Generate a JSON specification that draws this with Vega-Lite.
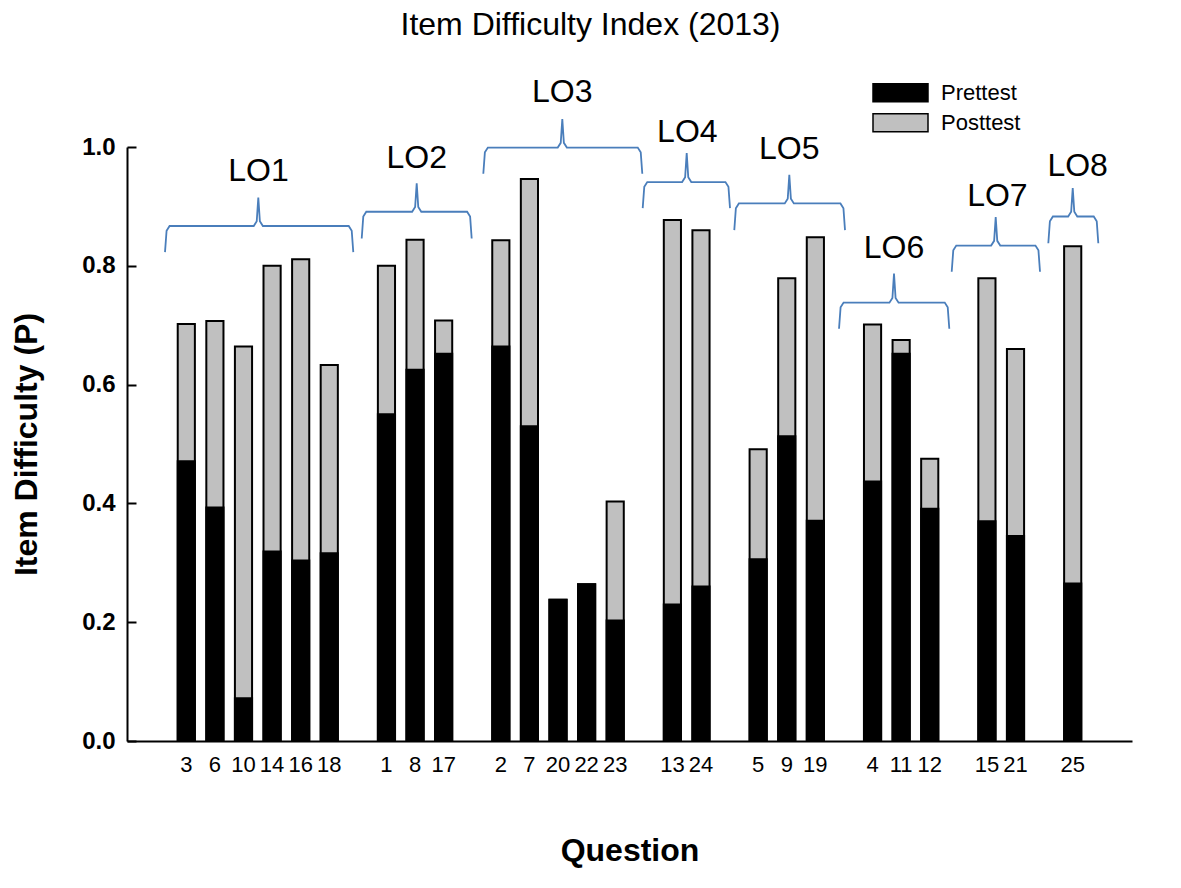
{
  "$schema": "https://vega.github.io/schema/vega-lite/v6.json",
  "width": 1005,
  "height": 594,
  "autosize": "none",
  "padding": {"left": 127, "top": 147, "right": 49, "bottom": 147},
  "background": "white",
  "title": {
    "text": "Item Difficulty Index (2013)",
    "fontSize": 32,
    "fontWeight": "normal",
    "font": "Liberation Sans",
    "color": "black",
    "anchor": "middle",
    "dx": -39,
    "dy": -30
  },
  "datasets": {
    "items": [
      {"q": "3", "lo": "LO1", "Prettest": 0.471, "Posttest": 0.702},
      {"q": "6", "lo": "LO1", "Prettest": 0.393, "Posttest": 0.707},
      {"q": "10", "lo": "LO1", "Prettest": 0.072, "Posttest": 0.664},
      {"q": "14", "lo": "LO1", "Prettest": 0.319, "Posttest": 0.800},
      {"q": "16", "lo": "LO1", "Prettest": 0.304, "Posttest": 0.811},
      {"q": "18", "lo": "LO1", "Prettest": 0.316, "Posttest": 0.633},
      {"q": "1", "lo": "LO2", "Prettest": 0.550, "Posttest": 0.800},
      {"q": "8", "lo": "LO2", "Prettest": 0.625, "Posttest": 0.844},
      {"q": "17", "lo": "LO2", "Prettest": 0.652, "Posttest": 0.708},
      {"q": "2", "lo": "LO3", "Prettest": 0.664, "Posttest": 0.843},
      {"q": "7", "lo": "LO3", "Prettest": 0.530, "Posttest": 0.946},
      {"q": "20", "lo": "LO3", "Prettest": 0.238, "Posttest": 0.238},
      {"q": "22", "lo": "LO3", "Prettest": 0.264, "Posttest": 0.264},
      {"q": "23", "lo": "LO3", "Prettest": 0.203, "Posttest": 0.403},
      {"q": "13", "lo": "LO4", "Prettest": 0.230, "Posttest": 0.877},
      {"q": "24", "lo": "LO4", "Prettest": 0.260, "Posttest": 0.860},
      {"q": "5", "lo": "LO5", "Prettest": 0.306, "Posttest": 0.491},
      {"q": "9", "lo": "LO5", "Prettest": 0.513, "Posttest": 0.779},
      {"q": "19", "lo": "LO5", "Prettest": 0.371, "Posttest": 0.848},
      {"q": "4", "lo": "LO6", "Prettest": 0.437, "Posttest": 0.701},
      {"q": "11", "lo": "LO6", "Prettest": 0.652, "Posttest": 0.675},
      {"q": "12", "lo": "LO6", "Prettest": 0.391, "Posttest": 0.475},
      {"q": "15", "lo": "LO7", "Prettest": 0.370, "Posttest": 0.779},
      {"q": "21", "lo": "LO7", "Prettest": 0.345, "Posttest": 0.660},
      {"q": "25", "lo": "LO8", "Prettest": 0.265, "Posttest": 0.833}
    ],
    "braces": [
      {"lo": "LO1", "x": -0.746, "y": 0.823}, {"lo": "LO1", "x": -0.691, "y": 0.859}, {"lo": "LO1", "x": -0.586, "y": 0.867},
      {"lo": "LO1", "x": 2.362, "y": 0.867}, {"lo": "LO1", "x": 2.467, "y": 0.875}, {"lo": "LO1", "x": 2.522, "y": 0.915},
      {"lo": "LO1", "x": 2.577, "y": 0.875}, {"lo": "LO1", "x": 2.682, "y": 0.867}, {"lo": "LO1", "x": 5.689, "y": 0.867},
      {"lo": "LO1", "x": 5.794, "y": 0.859}, {"lo": "LO1", "x": 5.849, "y": 0.823},
      {"lo": "LO2", "x": 6.144, "y": 0.846}, {"lo": "LO2", "x": 6.199, "y": 0.883}, {"lo": "LO2", "x": 6.304, "y": 0.891},
      {"lo": "LO2", "x": 7.910, "y": 0.891}, {"lo": "LO2", "x": 8.015, "y": 0.899}, {"lo": "LO2", "x": 8.070, "y": 0.939},
      {"lo": "LO2", "x": 8.125, "y": 0.899}, {"lo": "LO2", "x": 8.230, "y": 0.891}, {"lo": "LO2", "x": 9.836, "y": 0.891},
      {"lo": "LO2", "x": 9.941, "y": 0.883}, {"lo": "LO2", "x": 9.996, "y": 0.846},
      {"lo": "LO3", "x": 10.403, "y": 0.955}, {"lo": "LO3", "x": 10.458, "y": 0.991}, {"lo": "LO3", "x": 10.563, "y": 0.999},
      {"lo": "LO3", "x": 13.010, "y": 0.999}, {"lo": "LO3", "x": 13.115, "y": 1.007}, {"lo": "LO3", "x": 13.170, "y": 1.047},
      {"lo": "LO3", "x": 13.225, "y": 1.007}, {"lo": "LO3", "x": 13.330, "y": 0.999}, {"lo": "LO3", "x": 15.812, "y": 0.999},
      {"lo": "LO3", "x": 15.917, "y": 0.991}, {"lo": "LO3", "x": 15.972, "y": 0.955},
      {"lo": "LO4", "x": 15.986, "y": 0.897}, {"lo": "LO4", "x": 16.041, "y": 0.933}, {"lo": "LO4", "x": 16.146, "y": 0.941},
      {"lo": "LO4", "x": 17.367, "y": 0.941}, {"lo": "LO4", "x": 17.472, "y": 0.949}, {"lo": "LO4", "x": 17.527, "y": 0.990},
      {"lo": "LO4", "x": 17.582, "y": 0.949}, {"lo": "LO4", "x": 17.687, "y": 0.941}, {"lo": "LO4", "x": 18.884, "y": 0.941},
      {"lo": "LO4", "x": 18.989, "y": 0.933}, {"lo": "LO4", "x": 19.044, "y": 0.897},
      {"lo": "LO5", "x": 19.194, "y": 0.860}, {"lo": "LO5", "x": 19.249, "y": 0.897}, {"lo": "LO5", "x": 19.354, "y": 0.905},
      {"lo": "LO5", "x": 20.961, "y": 0.905}, {"lo": "LO5", "x": 21.066, "y": 0.913}, {"lo": "LO5", "x": 21.121, "y": 0.953},
      {"lo": "LO5", "x": 21.176, "y": 0.913}, {"lo": "LO5", "x": 21.281, "y": 0.905}, {"lo": "LO5", "x": 22.912, "y": 0.905},
      {"lo": "LO5", "x": 23.017, "y": 0.897}, {"lo": "LO5", "x": 23.072, "y": 0.860},
      {"lo": "LO6", "x": 22.862, "y": 0.694}, {"lo": "LO6", "x": 22.917, "y": 0.730}, {"lo": "LO6", "x": 23.022, "y": 0.738},
      {"lo": "LO6", "x": 24.628, "y": 0.738}, {"lo": "LO6", "x": 24.733, "y": 0.746}, {"lo": "LO6", "x": 24.788, "y": 0.787},
      {"lo": "LO6", "x": 24.843, "y": 0.746}, {"lo": "LO6", "x": 24.948, "y": 0.738}, {"lo": "LO6", "x": 26.565, "y": 0.738},
      {"lo": "LO6", "x": 26.670, "y": 0.730}, {"lo": "LO6", "x": 26.725, "y": 0.694},
      {"lo": "LO7", "x": 26.809, "y": 0.790}, {"lo": "LO7", "x": 26.864, "y": 0.826}, {"lo": "LO7", "x": 26.969, "y": 0.834},
      {"lo": "LO7", "x": 28.190, "y": 0.834}, {"lo": "LO7", "x": 28.295, "y": 0.842}, {"lo": "LO7", "x": 28.350, "y": 0.882},
      {"lo": "LO7", "x": 28.405, "y": 0.842}, {"lo": "LO7", "x": 28.510, "y": 0.834}, {"lo": "LO7", "x": 29.742, "y": 0.834},
      {"lo": "LO7", "x": 29.847, "y": 0.826}, {"lo": "LO7", "x": 29.902, "y": 0.790},
      {"lo": "LO8", "x": 30.193, "y": 0.838}, {"lo": "LO8", "x": 30.248, "y": 0.875}, {"lo": "LO8", "x": 30.353, "y": 0.883},
      {"lo": "LO8", "x": 30.888, "y": 0.883}, {"lo": "LO8", "x": 30.993, "y": 0.891}, {"lo": "LO8", "x": 31.048, "y": 0.931},
      {"lo": "LO8", "x": 31.103, "y": 0.891}, {"lo": "LO8", "x": 31.208, "y": 0.883}, {"lo": "LO8", "x": 31.784, "y": 0.883},
      {"lo": "LO8", "x": 31.889, "y": 0.875}, {"lo": "LO8", "x": 31.944, "y": 0.838}
    ],
    "labels": [
      {"lo": "LO1", "x": 2.53, "y": 0.943},
      {"lo": "LO2", "x": 8.07, "y": 0.965},
      {"lo": "LO3", "x": 13.17, "y": 1.076},
      {"lo": "LO4", "x": 17.55, "y": 1.008},
      {"lo": "LO5", "x": 21.12, "y": 0.979},
      {"lo": "LO6", "x": 24.79, "y": 0.813},
      {"lo": "LO7", "x": 28.41, "y": 0.901},
      {"lo": "LO8", "x": 31.22, "y": 0.951}
    ]
  },
  "layer": [
    {
      "data": {"name": "items"},
      "transform": [{"fold": ["Posttest", "Prettest"], "as": ["test", "value"]}],
      "mark": {"type": "bar", "stroke": "black", "strokeWidth": 2},
      "encoding": {
        "x": {
          "field": "q",
          "type": "nominal",
          "sort": null,
          "scale": {
            "domain": ["gap0", "3", "6", "10", "14", "16", "18", "gap1", "1", "8", "17", "gap2", "2", "7", "20", "22", "23", "gap3", "13", "24", "gap4", "5", "9", "19", "gap5", "4", "11", "12", "gap6", "15", "21", "gap7", "25", "gap8"],
            "paddingInner": 0.4,
            "paddingOuter": 0.774
          },
          "axis": {
            "title": "Question",
            "titleFontSize": 32,
            "titleFontWeight": "bold",
            "titleFont": "Liberation Sans",
            "titleColor": "black",
            "titlePadding": 60,
            "labelExpr": "test(/^gap/, datum.label) ? '' : datum.label",
            "labelFontSize": 22,
            "labelFont": "Liberation Sans",
            "labelColor": "black",
            "labelAngle": 0,
            "labelPadding": 13,
            "ticks": false,
            "tickSize": 0,
            "domainColor": "black",
            "domainWidth": 2,
            "grid": false
          }
        },
        "y": {
          "field": "value",
          "type": "quantitative",
          "stack": null,
          "scale": {"domain": [0, 1], "nice": false},
          "axis": {
            "title": "Item Difficulty (P)",
            "titleFontSize": 32,
            "titleFontWeight": "bold",
            "titleFont": "Liberation Sans",
            "titleColor": "black",
            "titlePadding": 38,
            "values": [0, 0.2, 0.4, 0.6, 0.8, 1.0],
            "format": ".1f",
            "labelFontSize": 24,
            "labelFontWeight": "bold",
            "labelFont": "Liberation Sans",
            "labelColor": "black",
            "labelPadding": 21,
            "tickSize": -9,
            "tickWidth": 2,
            "tickColor": "black",
            "domainColor": "black",
            "domainWidth": 2,
            "grid": false
          }
        },
        "color": {
          "field": "test",
          "type": "nominal",
          "scale": {"domain": ["Prettest", "Posttest"], "range": ["#000000", "#c0c0c0"]},
          "legend": {
            "title": null,
            "orient": "none",
            "legendX": 745,
            "legendY": -68,
            "labelFontSize": 22,
            "labelFont": "Liberation Sans",
            "labelColor": "black",
            "labelOffset": 12,
            "rowPadding": 2,
            "clipHeight": 27.5,
            "symbolType": "M-1,-0.33H1V0.33H-1Z",
            "symbolSize": 3025,
            "symbolStrokeColor": "black",
            "symbolStrokeWidth": 1.5
          }
        }
      }
    },
    {
      "data": {"name": "braces"},
      "mark": {"type": "line", "color": "#4a7ebb", "strokeWidth": 1.8},
      "encoding": {
        "x": {"field": "x", "type": "quantitative", "scale": {"domain": [-2.077, 33.124], "nice": false, "zero": false}, "axis": null},
        "y": {"field": "y", "type": "quantitative", "scale": {"domain": [0, 1], "nice": false}, "axis": null},
        "detail": {"field": "lo", "type": "nominal"}
      }
    },
    {
      "data": {"name": "labels"},
      "mark": {"type": "text", "fontSize": 32, "font": "Liberation Sans", "color": "black", "baseline": "alphabetic", "align": "center"},
      "encoding": {
        "x": {"field": "x", "type": "quantitative", "scale": {"domain": [-2.077, 33.124], "nice": false, "zero": false}, "axis": null},
        "y": {"field": "y", "type": "quantitative", "scale": {"domain": [0, 1], "nice": false}, "axis": null},
        "text": {"field": "lo", "type": "nominal"}
      }
    }
  ],
  "resolve": {"scale": {"x": "independent", "y": "independent"}},
  "config": {"font": "Liberation Sans", "view": {"stroke": null}}
}
